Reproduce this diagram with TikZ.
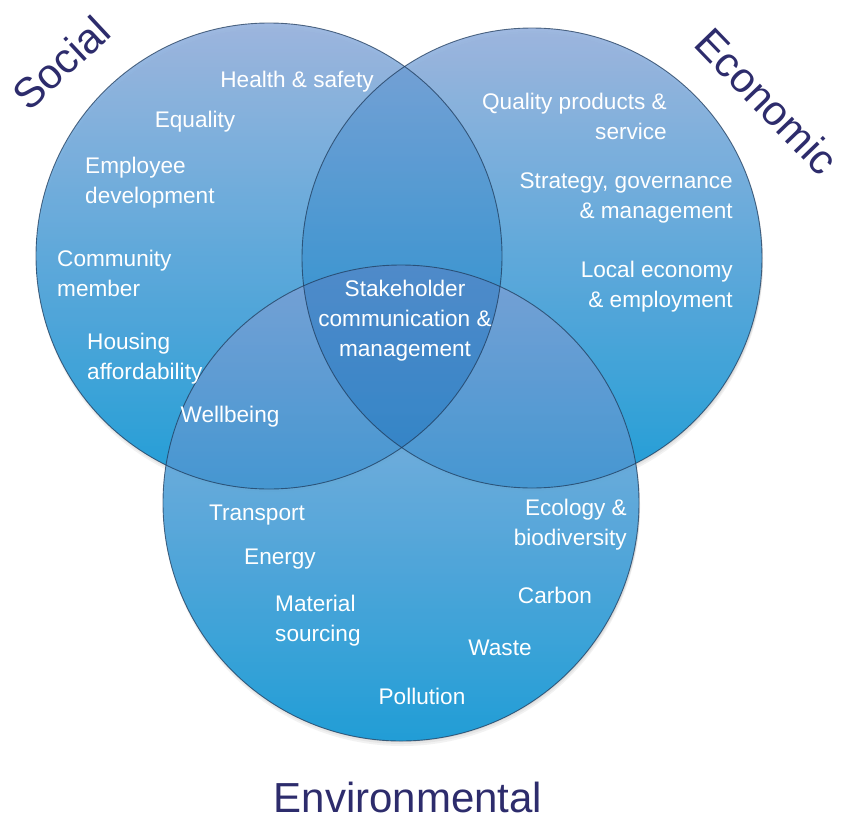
\documentclass[tikz,border=0pt]{standalone}
\usepackage{fontspec}
\setmainfont{Liberation Sans}
\usepackage{tikz}
\usetikzlibrary{calc}
\definecolor{ballTop}{HTML}{98B3DE}
\definecolor{ballMid}{HTML}{4AA3D5}
\definecolor{ballBottom}{HTML}{1298D6}
\definecolor{ballEdge}{HTML}{1F3B5C}
\definecolor{overlapBlue}{HTML}{0B64B6}
\definecolor{titleBlue}{HTML}{2D2C6C}
\tikzstyle{ball} = [top color=ballTop, middle color=ballMid, bottom color=ballBottom, fill opacity=0.92]
\tikzstyle{rim} = [draw=ballEdge, line width=0.9pt, draw opacity=0.75]
\tikzstyle{shadow} = [fill=black, fill opacity=0.05]
\tikzstyle{topic} = [text=white, inner sep=0pt, yshift=-3pt, font=\fontsize{22.6}{30}\selectfont]
\tikzstyle{title} = [text=titleBlue, inner sep=0pt, font=\fontsize{42}{48}\selectfont]
\newcommand{\topic}[3]{node (#1)[topic,#2]{#3}}
% darken the part of circle #2 that lies inside circle #1
\newcommand{\overlap}[4]{%
	\begin{scope}
		\clip (#1) circle (#2);
		\fill[overlapBlue, fill opacity=0.2] (#3) circle (#4);
	\end{scope}}

\begin{document}
\begin{tikzpicture}[x=1pt,y=-1pt]
	\useasboundingbox (0,0) rectangle (845,819);
	
	\coordinate (soc) at (269,256);
	\coordinate (eco) at (532,258);
	\coordinate (env) at (401,503);
	
	% Soft shadows
	\foreach \d in {1,3,5}{
		\path[shadow] ($(soc)+(1,\d)$) circle (233);
		\path[shadow] ($(eco)+(1,\d)$) circle (230);
		\path[shadow] ($(env)+(1,\d)$) circle (238);
	}
	
	% Draw the three circles
	\shade[ball] (soc) circle (233);
	\shade[ball] (eco) circle (230);
	\shade[ball] (env) circle (238);
	\overlap{soc}{233}{eco}{230}
	\overlap{soc}{233}{env}{238}
	\overlap{eco}{230}{env}{238}
	\path[rim] (soc) circle (233);
	\path[rim] (eco) circle (230);
	\path[rim] (env) circle (238);
	
	% Social topics
	\path (297,79) \topic{s1}{}{Health \& safety};
	\path (195,119) \topic{s2}{}{Equality};
	\path (85,180) \topic{s3}{anchor=west,align=left}{Employee\\development};
	\path (57,270) \topic{s4}{anchor=west,align=left}{Community\\member};
	\path (87,356) \topic{s5}{anchor=west,align=left}{Housing\\affordability};
	\path (230,414) \topic{s6}{}{Wellbeing};
	
	% Economic topics
	\path (667,113) \topic{e1}{anchor=east,align=right}{Quality products \&\\service};
	\path (733,195) \topic{e2}{anchor=east,align=right}{Strategy, governance\\\& management};
	\path (733,284) \topic{e3}{anchor=east,align=right}{Local economy\\\& employment};
	
	% Shared by all three
	\path (405,318) \topic{c}{align=center}{Stakeholder\\communication \&\\management};
	
	% Environmental topics
	\path (257,512) \topic{v1}{}{Transport};
	\path (280,556) \topic{v2}{}{Energy};
	\path (275,618) \topic{v3}{anchor=west,align=left}{Material\\sourcing};
	\path (627,522) \topic{v4}{anchor=east,align=right}{Ecology \&\\biodiversity};
	\path (555,592) \topic{v5}{}{Carbon};
	\path (500,645) \topic{v6}{}{Waste};
	\path (422,693) \topic{v7}{}{Pollution};
	
	% Circle titles
	\node (tsoc)[title, rotate=43] at (61,63) {Social};
	\node (teco)[title, rotate=-46] at (767,101) {Economic};
	\node (tenv)[title] at (408,797) {Environmental};
	
\end{tikzpicture}
\end{document}
